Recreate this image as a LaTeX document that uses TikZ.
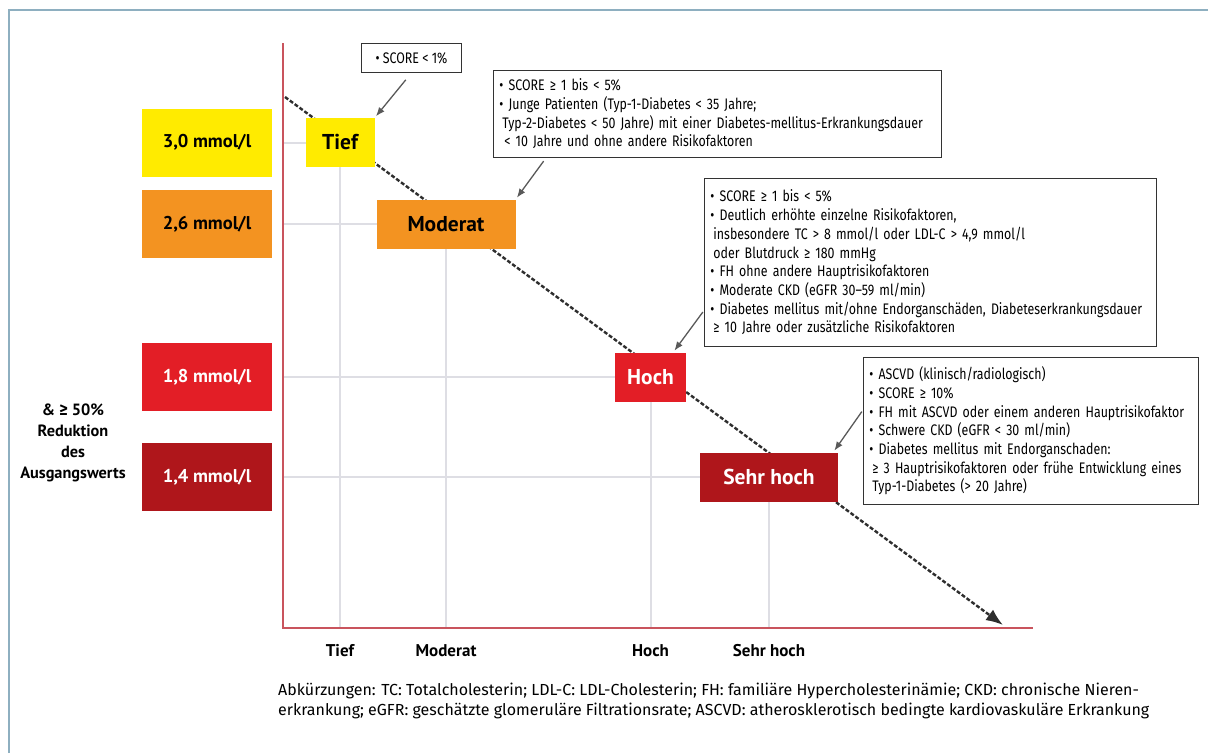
\documentclass[tikz,border=0pt]{standalone}
\usepackage{fontspec}
\setmainfont{PT Sans}
\newfontfamily\fira{Fira Sans}
\newfontfamily\condensed[FakeStretch=0.81]{Fira Sans}
\usetikzlibrary{arrows.meta,positioning}

\definecolor{rahmen}{RGB}{142,175,192}
\definecolor{achse}{RGB}{201,84,93}
\definecolor{raster}{RGB}{222,222,228}
\definecolor{tiefgelb}{RGB}{255,235,0}
\definecolor{modorange}{RGB}{243,147,33}
\definecolor{hochrot}{RGB}{227,30,38}
\definecolor{sehrrot}{RGB}{175,22,27}

\tikzstyle{level} = [rectangle, minimum width=130pt, minimum height=68pt, inner sep=0pt, font={\bfseries\fontsize{18.5}{22}\selectfont}]
\tikzstyle{risk} = [rectangle, minimum height=49pt, inner sep=0pt, font={\bfseries\fontsize{21.5}{24}\selectfont}]
\tikzstyle{info} = [draw=black!80, line width=0.9pt, fill=white, rectangle, align=left, inner xsep=6pt, inner ysep=0pt, anchor=north west, font={\condensed\fontsize{15.3}{18.7}\selectfont}]
\tikzstyle{axlabel} = [font={\bfseries\fontsize{17}{20}\selectfont}]
\tikzstyle{gridline} = [draw=raster, line width=2pt]
\tikzstyle{hint} = [draw=black!65, line width=1.3pt, ->, shorten >=2pt]

\begin{document}
\begin{tikzpicture}[x=1pt, y=-1pt, >={Latex[length=9pt,width=7pt]}]
    \useasboundingbox (0,0) rectangle (1208,753);
    \draw[rahmen, line width=1.5pt] (9,753) -- (9,10) -- (1208,10);
    \coordinate (origin) at (283,628);
    \coordinate (ytop) at (283,43);
    \coordinate (xend) at (1033,628);
    \coordinate (axlab) at (283,651);
    \coordinate (trendstart) at (285,97);
    \coordinate (trendend) at (1003,625);

    % Zielwerte links
    \node [level, fill=tiefgelb] (l30) at (207,142.5) {3,0 mmol/l};
    \node [level, fill=modorange] (l26) at (207,224) {2,6 mmol/l};
    \node [level, fill=hochrot, text=white] (l18) at (207,377) {1,8 mmol/l};
    \node [level, fill=sehrrot, text=white] (l14) at (207,477) {1,4 mmol/l};
    \node [align=center, font={\bfseries\fontsize{16.3}{21}\selectfont}] (reduktion) at (73,443) {\& {\fira ≥} 50\%\\Reduktion\\des\\Ausgangswerts};

    % Raster
    \draw [gridline] (l30 -| origin) -- (340,142.5);
    \draw [gridline] (l26 -| origin) -- (446,224);
    \draw [gridline] (l18 -| origin) -- (650.5,377);
    \draw [gridline] (l14 -| origin) -- (769,477);
    \draw [gridline] (340,142.5) -- (340,628);
    \draw [gridline] (446,224) -- (446,628);
    \draw [gridline] (650.5,377) -- (650.5,628);
    \draw [gridline] (769,477) -- (769,628);

    \draw [achse, line width=2.6pt] (ytop) -- (origin) -- (xend);
    \draw [black!82, line width=2.4pt, dash pattern=on 4pt off 2pt, -{Latex[length=17pt,width=13pt]}] (trendstart) -- (trendend);

    % Risikokategorien
    \node [risk, fill=tiefgelb, minimum width=69pt] (tief) at (340,142.5) {Tief};
    \node [risk, fill=modorange, minimum width=139pt] (moderat) at (446,224) {Moderat};
    \node [risk, fill=hochrot, text=white, minimum width=71pt] (hoch) at (650.5,377) {Hoch};
    \node [risk, fill=sehrrot, text=white, minimum width=138pt] (sehrhoch) at (769,477) {Sehr hoch};

    \node [axlabel] (xtief) at (tief |- axlab) {Tief};
    \node [axlabel] (xmoderat) at (moderat |- axlab) {Moderat};
    \node [axlabel] (xhoch) at (hoch |- axlab) {Hoch};
    \node [axlabel] (xsehrhoch) at (sehrhoch |- axlab) {Sehr hoch};

    % Erläuterungen
    \node [info, minimum width=100pt, minimum height=29pt] (sc1) at (361,43) {• SCORE < 1\%};
    \node [info, text width=436pt, minimum height=87pt] (sc2) at (493,70) {• SCORE ≥ 1 bis < 5\%\\
        • Junge Patienten (Typ-1-Diabetes < 35 Jahre;\\
        \hspace*{3pt}Typ-2-Diabetes < 50 Jahre) mit einer Diabetes-mellitus-Erkrankungsdauer\\
        \hspace*{5pt}< 10 Jahre und ohne andere Risikofaktoren};
    \node [info, text width=440pt, minimum height=168pt] (sc3) at (704,178) {• SCORE ≥ 1 bis < 5\%\\
        • Deutlich erhöhte einzelne Risikofaktoren,\\
        \hspace*{3pt}insbesondere TC > 8 mmol/l oder LDL-C > 4,9 mmol/l\\
        \hspace*{3pt}oder Blutdruck ≥ 180 mmHg\\
        • FH ohne andere Hauptrisikofaktoren\\
        • Moderate CKD (eGFR 30–59 ml/min)\\
        • Diabetes mellitus mit/ohne Endorganschäden, Diabeteserkrankungsdauer\\
        \hspace*{3pt}≥ 10 Jahre oder zusätzliche Risikofaktoren};
    \node [info, text width=323pt, minimum height=147pt] (sc4) at (863,357) {• ASCVD (klinisch/radiologisch)\\
        • SCORE ≥ 10\%\\
        • FH mit ASCVD oder einem anderen Hauptrisikofaktor\\
        • Schwere CKD (eGFR < 30 ml/min)\\
        • Diabetes mellitus mit Endorganschaden:\\
        \hspace*{3pt}≥ 3 Hauptrisikofaktoren oder frühe Entwicklung eines\\
        \hspace*{3pt}Typ-1-Diabetes (> 20 Jahre)};

    \draw [hint, shorten <=9pt] (sc1.south) -- (tief.north east);
    \draw [hint, shorten <=4pt] ([xshift=53pt]sc2.south west) -- (moderat.north east);
    \draw [hint, shorten <=2pt] ([yshift=-48pt]sc3.west) -- ([xshift=-13pt]hoch.north east);
    \draw [hint, shorten <=2pt] ([yshift=21pt]sc4.west) -- ([xshift=-5pt]sehrhoch.north east);

    \node [anchor=north west, align=left, inner sep=0pt, font={\fira\fontsize{16}{20}\selectfont}] (abk) at (278,683) {Abkürzungen: TC: Totalcholesterin; LDL-C: LDL-Cholesterin; FH: familiäre Hypercholesterinämie; CKD: chronische Nieren-\\
        erkrankung; eGFR: geschätzte glomeruläre Filtrationsrate; ASCVD: atherosklerotisch bedingte kardiovaskuläre Erkrankung};
\end{tikzpicture}
\end{document}
